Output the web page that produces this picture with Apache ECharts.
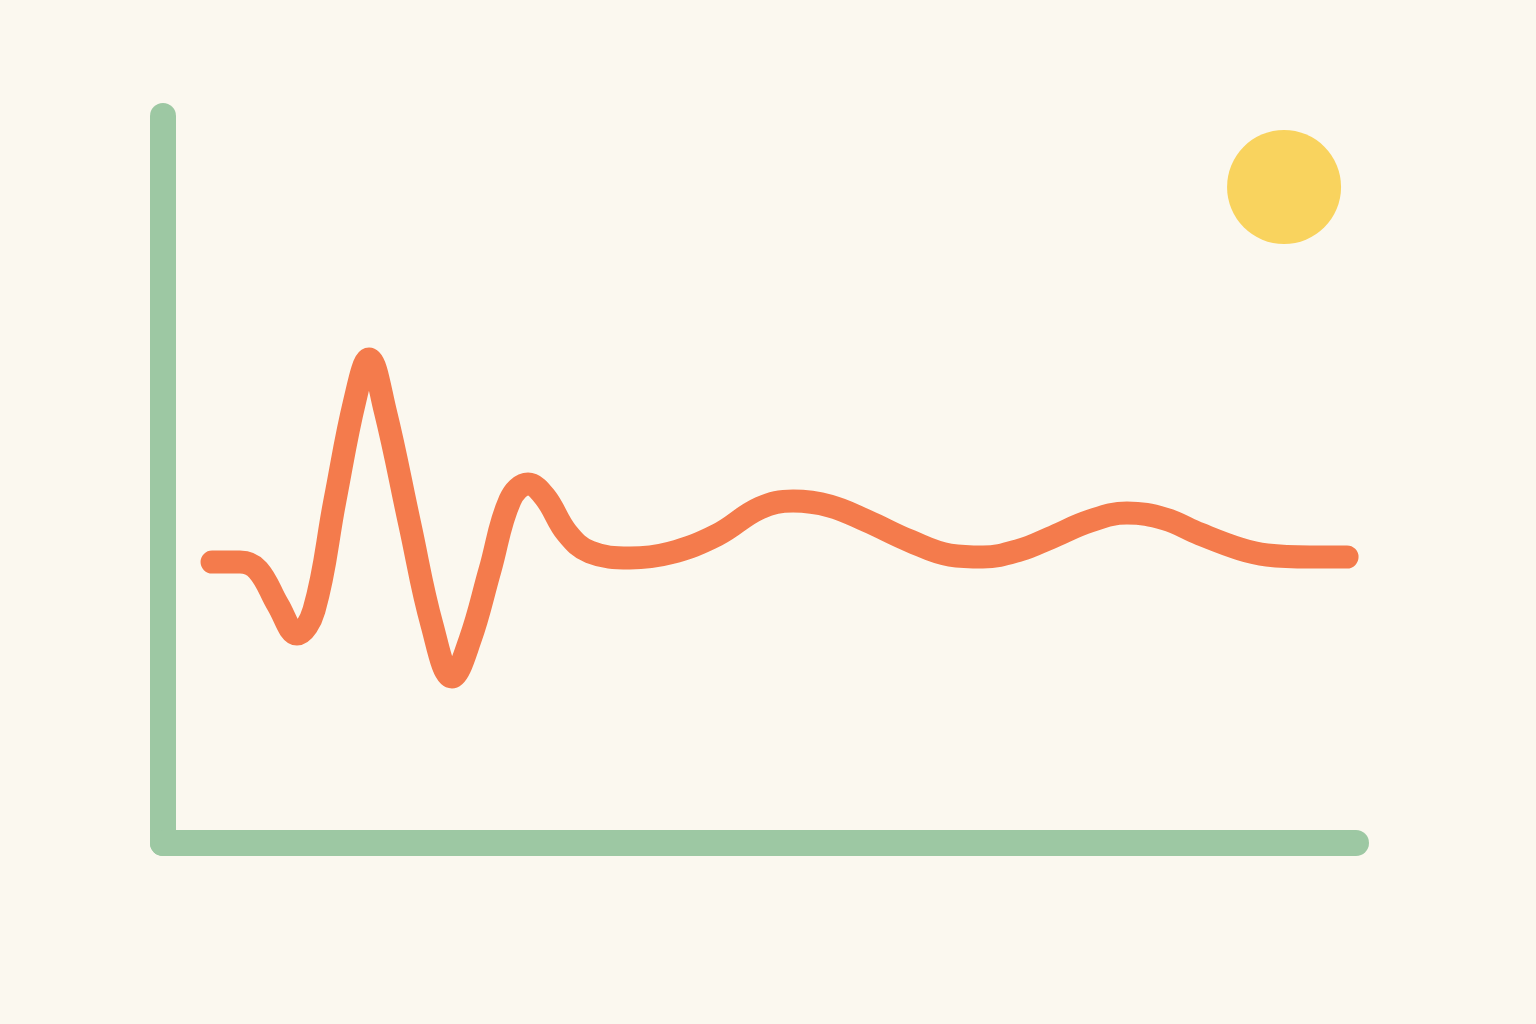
<!DOCTYPE html>
<html>
<head>
<meta charset="utf-8">
<script src="https://cdn.jsdelivr.net/npm/echarts@6/dist/echarts.min.js"></script>
<style>
html,body{margin:0;padding:0;background:#FBF8EF;}
#chart{width:1536px;height:1024px;}
</style>
</head>
<body>
<div id="chart"></div>
<script>
// Signal trace (x, y)
const signalX = [4.11, 6.45, 7.96, 9.64, 11.23, 12.66, 14.42, 16.09, 17.27, 18.61, 20.70, 22.55, 24.22, 25.73, 27.41, 29.09, 30.60, 32.02, 33.86, 35.79, 39.14, 42.50, 46.44, 50.04, 52.81, 55.91, 59.01, 62.62, 65.97, 68.73, 71.84, 74.35, 77.70, 80.80, 83.99, 86.92, 90.28, 92.54, 96.14, 99.25];
const signalY = [38.65, 38.65, 37.55, 32.74, 28.75, 32.05, 47.18, 60.94, 66.57, 59.56, 43.74, 29.99, 22.83, 27.92, 37.55, 47.18, 49.38, 47.59, 42.64, 40.03, 39.20, 39.89, 42.37, 46.08, 47.04, 46.35, 44.29, 41.54, 39.61, 39.34, 40.30, 41.95, 44.29, 45.39, 44.57, 42.50, 40.44, 39.61, 39.34, 39.34];
// Sun marker
const sunX = [93.97];
const sunY = [90.23];

const chart = echarts.init(document.getElementById('chart'), null, {renderer: 'canvas'});
const green = '#9DC8A3';
const axisCommon = {
  type: 'value', min: 0, max: 100,
  axisLine: {show: true, onZero: false, lineStyle: {color: green, width: 26, cap: 'round', join: 'round'}},
  axisTick: {show: false}, axisLabel: {show: false}, splitLine: {show: false}
};
chart.setOption({
  backgroundColor: '#FBF8EF',
  animation: false,
  grid: {left: 163, top: 116, right: 180, bottom: 181, containLabel: false},
  xAxis: Object.assign({}, axisCommon),
  yAxis: Object.assign({}, axisCommon),
  series: [
    {
      type: 'line',
      data: signalX.map((x, i) => [x, signalY[i]]),
      smooth: 0.4,
      showSymbol: false,
      clip: false,
      lineStyle: {color: '#F47B4C', width: 23, cap: 'round', join: 'round'}
    },
    {
      type: 'scatter',
      data: sunX.map((x, i) => [x, sunY[i]]),
      symbol: 'circle',
      symbolSize: 114,
      clip: false,
      itemStyle: {color: '#F9D35E', opacity: 1}
    }
  ]
});
</script>
</body>
</html>
